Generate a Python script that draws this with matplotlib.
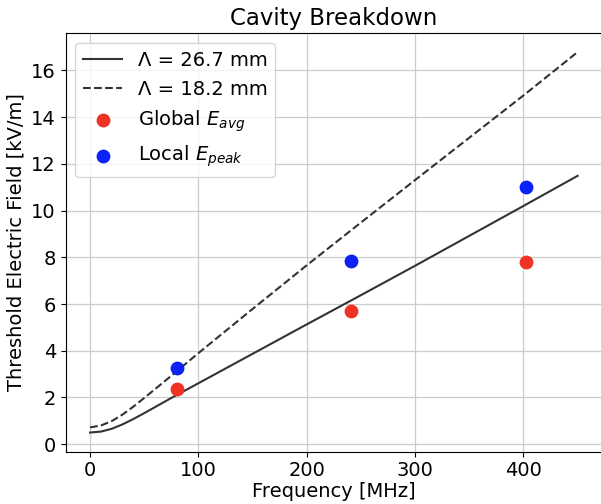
import numpy as np
import matplotlib
matplotlib.use("Agg")
import matplotlib.pyplot as plt

# threshold curves
freq_curve = [0, 10, 20, 30, 40, 50, 60, 75, 100, 150, 200, 250, 300, 350, 400, 450]
e_long = [0.50, 0.54, 0.66, 0.85, 1.08, 1.33, 1.59, 1.98, 2.61, 3.87, 5.13, 6.38,
          7.64, 8.92, 10.20, 11.49]
e_short = [0.72, 0.80, 0.99, 1.27, 1.61, 1.98, 2.36, 2.93, 3.90, 5.79, 7.66, 9.49,
           11.31, 13.12, 14.93, 16.79]

# measured points
freq_meas = [80, 241, 402]
e_avg = [2.36, 5.71, 7.78]
e_peak = [3.25, 7.85, 11.01]

fig = plt.figure(figsize=(6.01, 5.04), dpi=100)
ax = fig.add_axes([0.1093, 0.1038, 0.8924, 0.8301])

ax.plot(freq_curve, e_long, color="#333333", lw=1.5, label="Λ = 26.7 mm")
ax.plot(freq_curve, e_short, color="#333333", lw=1.5, ls="--",
        label="Λ = 18.2 mm")
ax.scatter(freq_meas, e_avg, s=80, color="#ee3224", zorder=3,
           label="Global $E_{avg}$")
ax.scatter(freq_meas, e_peak, s=80, color="#0a22f5", zorder=3,
           label="Local $E_{peak}$")

ax.set_xlim(-22.5, 472.5)
ax.set_ylim(-0.32, 17.59)
ax.set_yticks(np.arange(0, 17, 2))
ax.grid(True, color="#cccccc", lw=0.9)
ax.set_axisbelow(True)
ax.tick_params(labelsize=14)
ax.set_xlabel("Frequency [MHz]", fontsize=14, labelpad=1)
ax.set_ylabel("Threshold Electric Field [kV/m]", fontsize=14)
ax.set_title("Cavity Breakdown", fontsize=16.5)
ax.legend(loc="upper left", fontsize=14)

fig.savefig("out.png", dpi=100)
